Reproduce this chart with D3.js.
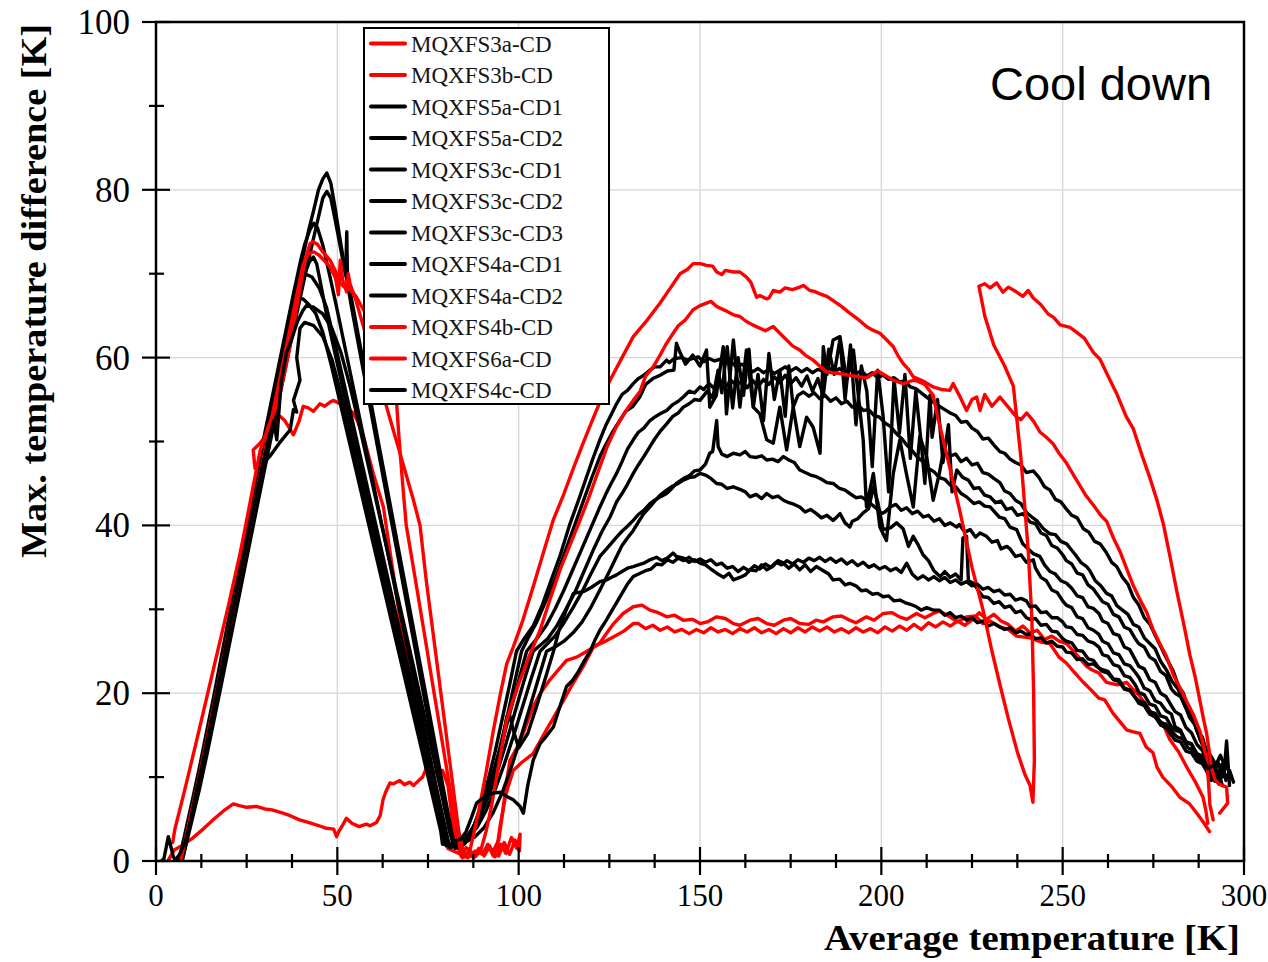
<!DOCTYPE html>
<html>
<head>
<meta charset="utf-8">
<script src="https://d3js.org/d3.v7.min.js"></script>
<style>
  body { margin: 0; background: #fff; }
  svg text { font-family: "Liberation Serif", "Times New Roman", serif; }
</style>
</head>
<body>
<script>
// ---- data: [average temperature K, max temperature difference K] ----
var s3a = [[290.5,3.5],[289,4.5],[287,5.7],[285,6.8],[282.3,7.6],[280,8.9],[277.6,10],[276,11.2],[274.9,12.9],[273,13.6],[271.3,15.2],[269.5,15.4],[267.7,15.6],[266,16.5],[263.9,17.6],[261.6,19.2],[260,19.4],[258,20.3],[255.7,21.3],[253,22.6],[251,23.6],[249,24.3],[246.5,25.9],[244,26.1],[241,26.6],[237.3,26.8],[235,27.6],[232.7,27.9],[230,28.6],[228,28.3],[226,29.2],[223.5,29.1],[221,28.5],[218.9,29.1],[216,29.8],[214.3,29.5],[212,29],[209.7,29.5],[207,28.8],[205,29.1],[203,29.6],[200.5,29.5],[198,28.7],[195.9,29.1],[193,28.4],[191.3,28.7],[189,29.2],[186.7,29.1],[184,28.5],[182,28.7],[180,28.2],[177.5,28.3],[175,28.9],[173,28.7],[170.5,28.1],[168.4,28.3],[166,28.9],[163.8,28.7],[161,28.1],[159.2,28.3],[157,28.9],[154.6,29.1],[152,28.5],[150,28.3],[148,28.8],[145.4,28.7],[143,29.3],[140.8,29.1],[138.5,29.6],[136.2,29.9],[134,30.5],[131.6,30.3],[128.8,29.5],[126,28.2],[124,27],[122.4,26],[120,25.3],[118,24.8],[116,24.3],[113.2,23.9],[111,22.8],[108.6,21.6],[106,20],[104,18.4],[101.5,15.5],[99.5,13.5],[97.6,12],[96.5,9],[95.5,5.5],[94.5,2.5],[93,1.2],[94.5,0.6],[96,2.2],[97.5,0.8],[99,2.5],[100.2,1.2],[100.4,3.2],[99.5,1.5],[98,2.8],[96.5,0.9],[95,2],[93.5,0.5],[92,1.8],[90.5,0.6],[89,1.5],[87.5,0.4],[86,1],[84.5,0.4],[83.8,0.9],[82,4],[80.5,9],[79,10.8],[77,10.6],[74.6,11.1],[73.5,10],[72.7,9.7],[71,9],[70,9.4],[68.5,9.1],[67.2,9.6],[65.5,9.2],[64.5,9.3],[63.3,8.2],[62.6,7.3],[61.8,5.4],[60.8,4.6],[59,4.2],[58,4.4],[56,4.1],[54,4.5],[52.5,5.1],[51.5,4.3],[50.5,3.6],[49.8,2.9],[49,3.8],[47,3.9],[45,4.2],[44.2,4.3],[42,4.6],[39.6,4.9],[37,5.4],[35,5.7],[32,6.1],[30,6.2],[27.7,6.5],[25,6.4],[23,6.6],[21.3,6.8],[19,6.1],[16,5],[13,3.8],[10,2.7],[7,1.8],[5,1.3],[3.5,0.2]];

var s3b = [[290,4.5],[289.5,6],[288.7,7.6],[286.5,9.5],[284.2,11.2],[282,13],[279.5,14.5],[277.6,16.4],[275,17.3],[273,18.6],[271,19.8],[269.5,20.4],[267.6,21.3],[265,21],[262.1,21.3],[260,22.4],[258,22.8],[256.6,23.2],[254,24.5],[251.1,25.9],[249,26.2],[247,26.8],[245,26.4],[243,27.5],[241,27.2],[239,28],[237,27.4],[235,28.2],[233,28.6],[231,29.4],[229,28.8],[227,29.6],[225,28.7],[223,28.1],[221,28.6],[219,28],[217,28.5],[215,27.9],[213,28.4],[211,27.6],[209,28.2],[207,27.5],[205,28],[203,27.4],[201,27.9],[199,27.2],[197,27.7],[195,27.3],[193,27.8],[191,27.2],[189,27.7],[187,27.3],[185,27.9],[183,27.4],[181,27.9],[179,27.3],[177,27.8],[175,27.2],[173,27.7],[171,27.1],[169,27.6],[167,27.2],[165,27.8],[163,27.3],[161,27.7],[159,27.1],[157,27.6],[155,27.3],[153,27.8],[151,27.2],[149,27.6],[147,27.1],[145,27.6],[143,27.3],[141,27.9],[139,27.5],[137,28.1],[135,27.7],[133,28.3],[131.6,28.3],[129,27.4],[126.1,26.7],[123.5,26.1],[120.6,25.5],[117.8,23.2],[114.5,20.8],[111.4,18.4],[107.5,15.5],[104,12.8],[101,11.8],[98.5,10.8],[96.5,8],[95,4.5],[94,1.5],[93,0.6],[91.5,2],[90,0.8],[88,1.2],[86,0.4],[84,0.8],[82,1.2],[80.5,1.5],[79,3.8],[77,8.2],[75,12.5],[72.5,18],[70,23],[67.3,28.7],[65,35.5],[62.7,42.2],[59.9,46.2],[57.2,50.6],[55.5,52.5],[54.4,53.4],[52.5,54.1],[50.7,54.5],[49,54.9],[48,54.7],[46.5,54.2],[45.2,54.5],[43.4,53.6],[42,54],[40.6,54.2],[39.5,52.5],[37.9,50.8],[36.5,51.8],[35.5,52.5],[34.2,53],[33,52.3],[32.4,51.8],[30.5,50.8],[28.5,49.7],[26.8,49],[27.3,46.8]];

var s5a1 = [[297.1,9.4],[296,10.8],[295,9.6],[294,11.5],[292.5,11.3],[291,12.4],[290,13.1],[288.5,14],[287.9,14.5],[286.5,16.4],[285,17.6],[283.3,20],[282,20.8],[280.5,22.6],[278.7,24.1],[277,25.6],[275.5,26.9],[274.1,28.2],[272.5,29],[271,30.5],[269.5,31.4],[268,33],[266.5,33.8],[264.9,35.1],[263.5,35.6],[262,36.8],[260.3,37.8],[258.8,38.1],[257.2,39.2],[255.7,39.6],[254,40.9],[252.5,41.2],[251.1,41.9],[249.5,42.8],[248,43.1],[246.5,44.2],[245,44.6],[243.5,45.7],[241.9,46.5],[240,46.3],[238.5,47.2],[237,47.5],[235.5,47.9],[234,48.6],[232.7,48.8],[231,49.6],[229.5,50.4],[228,50.3],[226.5,51.2],[225,51.6],[223.5,52.4],[222,52.3],[220.5,53.1],[219,53.4],[217.5,53.8],[216,54.2],[214.3,54.7],[212.5,55.3],[211,55.8],[209.5,56.3],[208,56.5],[206.5,57.2],[205,57.1],[203.5,57.6],[202,57.4],[200.5,57.9],[199,57.6],[197.5,58.2],[196,57.8],[194.5,58.4],[193,58.1],[191.5,58.6],[190,58.2],[188.5,58.7],[187,58.3],[185.5,58.8],[184,58.4],[182.5,58.6],[181,58.2],[179.5,58.7],[178,58.3],[176.5,58.8],[175,58.4],[173.5,58.9],[172,58.5],[170.5,58.1],[169,58.6],[167.5,58.2],[166,58.7],[164.5,58.3],[163,58.8],[161.5,59.2],[160,58.9],[158.5,59.5],[157,59.3],[155.5,59.8],[154,59.6],[152.5,59.9],[151,59.5],[149.5,60.1],[148.1,59.9],[146.5,59.7],[145,60],[143,59.9],[141.5,59.4],[140.8,59.7],[139,58.9],[137.5,58.9],[136.2,58.5],[134.5,57.9],[133,57.5],[131.6,56.9],[130,56.1],[128.5,55.6],[127,54.5],[125.5,53.2],[124,51.9],[122.4,50.2],[120.5,48],[118.5,45.5],[116.5,43],[114,40],[111.5,36.5],[109,33.5],[106.5,30.5],[104,28],[101.5,26.5],[99.4,25],[97.5,21],[95.5,17],[93.5,13],[91.5,9.5],[89.5,6.5],[87.5,4],[85.5,2.5],[83.5,1.6],[82,1.8],[81,3.5],[79,7.8],[76.5,13.6],[74,19.4],[71.5,25.2],[69,31],[66.5,36.8],[64,42.6],[61.5,48.4],[59,54.2],[56.5,60],[54,65.8],[52,70.8],[50.5,74.8],[49.2,78.3],[48.2,80.8],[47.1,82],[46,81.3],[44.8,80],[43.5,77.6],[42,75],[40.5,72],[38.5,67.8],[36.5,63.6],[34.5,59.4],[32.5,55.2],[30.5,51],[28.5,46.6],[26.5,42.2],[24.5,37.8],[22.5,33.3],[20.5,28.8],[18.5,24.4],[16.5,20],[14.5,15.7],[12.5,11.4],[10.5,7.3],[8.5,3.4],[7.2,1],[6.6,0]];

var s5a2 = [[296,9],[295.2,14.3],[294.5,10.5],[293,10.1],[291.5,11.9],[290.6,11.3],[289.2,13.2],[287.9,14.5],[286.5,16.2],[285,17.1],[283.3,19],[281.8,20.5],[280.2,21.4],[278.7,22.7],[277,23.8],[275.5,25.3],[274.1,25.9],[272.5,26.6],[271,27.9],[269.5,28.2],[268,29.4],[266.5,29.9],[265,30.4],[263.5,31.6],[262.1,31.9],[260.5,32.8],[259,33.4],[257.5,34.6],[256.6,35.1],[255,35.6],[253.5,36.5],[252,37.3],[251.1,37.8],[249.5,38.1],[248,38.9],[246.5,39],[244.7,39.6],[243,40.5],[241.5,41],[240.1,41.5],[238.5,42.6],[237,43],[235.5,43.8],[234,44.1],[232.7,45.1],[231,45.6],[229.5,46.1],[228,46.3],[226.5,47.4],[225,47.2],[223.5,48],[222,47.6],[220.5,48.5],[219,48.3],[217.1,48.8],[216,46.2],[214.3,43],[212.5,48.2],[210.6,50.6],[208.8,42.2],[206.9,46.2],[205.1,50.2],[203.3,46.2],[201.4,38.2],[199.6,39.8],[197.8,46.2],[195.9,42.2],[195,50.2],[192.3,60.9],[190.4,57.3],[188.6,62.5],[186.7,62.1],[185,58],[184,61.3],[183.1,48.6],[181.2,51.7],[179.4,52.9],[177.5,49.4],[175.7,54.1],[173.9,49],[172,54.1],[170.2,49.8],[168.4,50.2],[166.5,53.3],[164.7,54.1],[162.8,60.9],[161,54.1],[159.2,62.1],[157.3,53.3],[156.4,61.3],[154.5,55.5],[152.7,54.1],[151.8,60.9],[150,59],[148,60.3],[146,59.2],[144.5,60.6],[143.5,61.7],[142.8,58.5],[141,58.4],[139,57.9],[137,57.5],[135,56.8],[133.4,55.3],[131.5,54.2],[129.5,53.6],[127.9,52.5],[126,51.2],[124,49.6],[122.4,48.2],[120,45.5],[117.5,42.5],[115,39.5],[112.5,36.5],[110,33.5],[107.5,31],[105,28.5],[102.5,26.5],[100.8,25],[99,21.5],[97,17.5],[95,13.8],[93,10.2],[91,7.2],[89,4.8],[87,3],[85,2],[83.5,1.6],[82.5,1.5],[81.5,3.5],[79,9.2],[76.5,15],[74,20.8],[71.5,26.5],[69,32.3],[66.5,38],[64,43.8],[61.5,49.5],[59,55.3],[56.5,61],[54,66.8],[52.8,69.5],[52.6,75],[52.3,69.8],[51,72.8],[49.5,76.2],[48.2,79],[47.1,79.8],[46,79],[44.5,76.2],[43,73.4],[41.5,70.6],[40,67.6],[38,63.6],[36,59.4],[34,55.2],[32,51],[30,46.8],[28,42.5],[26,38.2],[24,33.9],[22,29.6],[20,25.3],[18,21],[16,16.8],[14,12.6],[12,8.6],[10,5],[8.5,2.3],[7.5,0.6],[7,0]];

var s3c1 = [[295,11],[293.5,12.6],[292,11.2],[290,12.5],[288.5,14.8],[287,15.5],[285.5,17.6],[284,18.2],[282.5,19.6],[281,20],[280,20.5],[278.5,22.1],[277,22.6],[275.5,23.9],[274,24.3],[272.5,25.5],[271,25.9],[270,26.5],[268.5,27.6],[267,27.9],[265.5,29.1],[264,29.4],[262.5,30.6],[261,30.9],[260,31.5],[258.5,32.4],[257,32.9],[255.5,34.1],[254,34.3],[252.5,35.4],[251,35.8],[250,36.5],[248.5,37.3],[247,37.6],[245.5,38.8],[244,39.1],[242.5,40.2],[241,40.4],[239.1,41.4],[237.5,41.2],[236,42.1],[234.5,41.9],[233,42.9],[231.5,42.7],[230,43.4],[228.5,43.6],[227,44.5],[225.5,44.4],[224,45.4],[222.5,45.7],[220.8,46.6],[219.5,44],[218.5,52],[217,47.5],[215.5,55],[214,50.5],[213.4,55.5],[212,45],[211,49.8],[209.5,56],[208,48],[206.5,58],[205,51],[203.5,57.5],[202,44],[200.5,53],[199,58.5],[197.5,47],[196,56],[194.5,59],[193,52],[191.5,61.5],[190,55],[188.6,62.2],[187,58],[185.5,61],[184,55.5],[182.5,57.5],[181,56],[179.5,57.8],[178,56.6],[176.5,57.6],[175,56.9],[173.5,57.9],[172,57],[170.5,57.7],[169,56.8],[167.5,57.4],[166,56.5],[164.5,57.3],[163,56.4],[161.5,57.2],[160,56.7],[158.5,57.3],[157,56.5],[155.5,57],[154,56.3],[152.5,56.9],[151,56.2],[150,56.5],[148.5,55.8],[147,56],[145.4,55.3],[144,54.8],[142.5,54.4],[140.8,53.7],[139,53.3],[137.5,52.9],[136.2,52.5],[134.5,51.6],[133,51.1],[131.6,50.2],[130,49.1],[128.5,47.6],[127,46.2],[125.5,45],[124,43.7],[122.4,42.2],[120,39.8],[117.5,37.3],[115,34.8],[112.5,32.3],[110,30],[107.5,28],[105,26.5],[102.2,25],[100,21.5],[97.5,17.5],[95,13.5],[92.5,9.8],[90,6.5],[87.5,4],[85,2.5],[83,1.8],[81,1.6],[80,3.5],[77.5,8.4],[75,13.6],[72.5,18.8],[70,24],[67.5,29.2],[65,34.4],[62.5,39.6],[60,44.8],[57.5,50],[55,55.2],[52.5,60.4],[50,65.6],[48,69.6],[46,73.4],[44.5,75.5],[43.5,76],[42.5,75.3],[41,73.5],[40,71.8],[38,67.8],[36,63.6],[34,59.4],[32,55.2],[30,51],[28,46.6],[26,42.2],[24,37.8],[22,33.3],[20,28.8],[18,24.3],[16,19.8],[14,15.5],[12,11.2],[10,7.2],[8,3.3],[6.8,1],[6.2,0]];

var s3c2 = [[294,10],[292.8,11.8],[291.5,10.6],[290,11.5],[288.5,13.2],[287,13.9],[285.5,15.3],[284,15.9],[282.5,17.4],[281,17.8],[280,18.5],[278.5,19.6],[277,20],[275.5,21.3],[274,21.6],[272.5,22.9],[271,23.2],[270,24],[268.5,25.2],[267,25.5],[265.5,26.9],[264,27.1],[262.5,28.3],[261,28.6],[260,29.5],[258.5,30.1],[257,30.3],[255.5,31.4],[254,31.6],[252.5,32.5],[251.1,33.1],[249.5,33.4],[248,34.2],[246.5,34.5],[245,35.3],[243.7,36.3],[242,36.6],[240.5,37.2],[239,37.8],[237.3,39.5],[235.5,39.8],[234,40.8],[232.5,41],[230,42.2],[228.5,42.3],[227,42.8],[225.5,42.6],[223.5,43.4],[222,43.8],[220.5,44.6],[219,44.8],[217.5,45.5],[216,45.7],[214.5,46.4],[213,46.8],[211.5,47.6],[210,48.1],[208.5,48.9],[207,49.6],[205.5,50.4],[204,51],[202.5,51.8],[201,52.2],[199.5,52.9],[198,53.1],[196.5,53.8],[195,53.7],[193.5,54.4],[192,54.1],[190.5,54.8],[189,54.5],[187.5,55.2],[186,54.8],[184.5,55.5],[183,55.1],[181.5,55.8],[180,55.4],[178.5,55.9],[177,55.5],[175.7,54.1],[174.5,59],[173.5,53],[172,58.5],[170.5,55],[169,60.5],[167.5,52.5],[166,58],[164.7,54.1],[163.5,61],[162,55.5],[160.5,60],[159,54],[157.5,61.3],[156,55.8],[155,58.5],[153.5,55.2],[152,56],[150,54.9],[148.5,55],[147,54.5],[145.4,54.1],[144,53.4],[142.5,53],[140.8,52.1],[139,51.2],[137.5,50.3],[136.2,49.4],[134.5,48.2],[133,47.2],[131.6,46.2],[130,44.9],[128.5,43.8],[127,42.8],[125.2,41],[123,39.3],[120.5,37],[118,34.5],[115.5,32],[113,30],[110.5,28],[108,26.5],[104,25],[101.5,21.5],[99,17.8],[96.5,14],[94,10.5],[91.5,7.5],[89,5],[86.5,3.2],[84,2.2],[82,1.9],[80,1.8],[79,3.6],[76.5,8.4],[74,13.2],[71.5,18],[69,22.8],[66.5,27.6],[64,32.4],[61.5,37.2],[59,42],[56.5,46.8],[54,51.6],[51.5,56.4],[49,61.2],[47,65.2],[45.5,68.6],[44.3,71.2],[43.4,72],[42.3,71.4],[41,70],[39.6,68.3],[38,65],[36,61.8],[34,57.8],[32,53.6],[30,49.4],[28,45],[26,40.6],[24,36.2],[22,31.8],[20,27.4],[18,23],[16,18.6],[14,14.4],[12,10.3],[10,6.4],[8.2,2.8],[7,0.6],[6.5,0]];

var s3c3 = [[293,9.5],[291.5,10.8],[290,10.4],[288.5,12.1],[287,12.5],[285.5,13.9],[284,14.2],[282.5,15.6],[281,16],[280,17.5],[278.5,17.9],[277,18.8],[275.5,19.1],[274,20.3],[272.5,20.6],[271,21.9],[270,22.5],[268.5,23.3],[267,23.5],[265.5,24.6],[264,24.8],[262.5,25.9],[261,26.2],[260,27],[258.5,27.5],[257,27.8],[255.5,28.9],[254,29.1],[252.5,30.2],[251,30.5],[250,31],[248.5,32],[247,32.3],[245.5,33.4],[244,33.8],[242.5,34.9],[241.9,35.9],[240,35.6],[238.5,36.5],[237,36.3],[235.5,37.2],[234.6,37.5],[233,37.2],[232,38.2],[230.5,38],[229,38.7],[227.2,39.1],[226,38.6],[224.5,39.5],[223,39.2],[221.5,40.1],[220.8,39.8],[219,40.3],[217.5,40],[216,40.8],[214.5,40.5],[213,41.2],[211.6,41],[210,41.7],[208.5,41.4],[207,42.1],[205.5,41.8],[204,42.5],[202.4,42.2],[201,41.6],[200,41.4],[198.5,42.1],[197,42.6],[195.9,43],[194.5,43.4],[193,43.3],[191.3,43.8],[190,44.2],[188.5,44.4],[186.7,45],[185,45.1],[183.5,45.5],[182.1,45.8],[180.5,46],[179,46.3],[177.5,46.6],[176,47.5],[174.5,47.8],[173,48.2],[171.5,47.6],[170,47.9],[168.4,47.8],[167,48.3],[165.5,48.1],[163.8,48.2],[162.5,48.8],[161,48.4],[159.2,48.6],[157.5,48.2],[156,48.5],[155,49.4],[154.6,52.5],[153.5,48.8],[152.7,48.6],[151.5,47.3],[150,46.6],[148.5,46.5],[147,45.9],[145.5,45.6],[143.5,45],[142,44.3],[140.8,43.8],[139,43.4],[137.5,43],[136.2,42.6],[134.5,41.8],[133,41.3],[131.6,40.6],[130,39.9],[128.5,39.3],[127,38.6],[125,37.6],[122.4,36.3],[120,34.3],[117.5,32.1],[115,30.2],[112.5,28.4],[110,26.8],[105.9,25],[103.5,21.8],[101,18.3],[98.5,14.8],[96,11.5],[93.5,8.5],[91,6],[88.5,4],[86,2.8],[83.5,2.2],[80.5,2],[79.5,3.8],[77,8.6],[74.5,13.4],[72,18.2],[69.5,23],[67,27.8],[64.5,32.6],[62,37.4],[59.5,42.2],[57,47],[54.5,51.8],[52,56.6],[49.5,61.4],[47,66],[45,68.3],[43,69.6],[41,70],[40,69.3],[39,67.4],[37.5,64.8],[36,61.9],[34,57.6],[32,53.3],[30,49.1],[28,44.8],[26,40.4],[24,36],[22,31.6],[20,27.2],[18,22.8],[16,18.5],[14,14.2],[12,10],[10,6],[8.5,3.2],[7.2,0.8],[6.8,0]];

var s4a1 = [[294,9],[293,10.6],[292,9.5],[290.5,10.8],[289,11.6],[287.5,12.1],[286,13.2],[284.5,13.5],[283,14.6],[281.5,14.8],[280,15.5],[278.5,16.3],[277,16.5],[275.5,17.6],[274,17.8],[272.5,18.9],[271,19.1],[270,19.5],[268.5,20.4],[267,20.6],[265.5,21.6],[264,21.7],[262.5,22.6],[261,22.8],[260,23],[258.5,23.9],[257,24.1],[255.5,25],[254,25.1],[252.5,26],[251,26.2],[250,26.5],[248.5,27.3],[247,27.4],[245.5,28.2],[244,28.1],[242.5,28.9],[241,28.8],[240,29],[238.5,29.8],[237,29.6],[235.5,30.4],[234,30.2],[232.5,30.9],[231,30.7],[229.5,31.4],[228,31.5],[226.5,32.4],[225.4,33.1],[224,33.4],[223.5,38.7],[222.5,38.5],[222,33.5],[220.5,34.2],[219,33.8],[217.5,34.5],[216.2,33.9],[214.5,34.6],[213,35.8],[211.5,36.5],[210,37.8],[208.8,38.7],[207.5,37.5],[206,39.6],[204.2,40.3],[202.5,39.7],[200.5,39.5],[199,42.8],[197.8,44.6],[196.5,42],[195,41.5],[193.5,40.8],[192,40.5],[191.3,39.8],[190,40.3],[188.6,41.4],[187.5,40.9],[186.7,40.6],[185,41.2],[183.5,40.9],[182.1,41.4],[180.5,41.9],[179,41.6],[177.5,42.2],[176,42.5],[174.5,42.7],[173,43],[171.5,43.5],[170,43.3],[168.4,43.8],[167,43.2],[165.5,43.7],[163.8,43.4],[162.5,44],[161,44.3],[159.2,44.6],[157.5,44.4],[156,44.9],[154.6,45],[153,45.6],[151.5,46],[150,46.2],[148.5,45.8],[147,45.7],[145.4,45.4],[144,45],[142.5,44.7],[140.8,44.2],[139,43.6],[137.5,42.9],[136.2,42.2],[134.5,41.4],[133,40.4],[131.6,39.4],[130,38.5],[128.5,37.6],[127,36.3],[125,34.5],[122.4,32.3],[120,30.3],[117.5,28.5],[115,27.2],[112.5,26.2],[110,25.5],[107.7,25],[105.5,21.8],[103,18.2],[100.5,14.6],[98,11.2],[95.5,8.2],[93,5.8],[90.5,4],[88,2.9],[85.5,2.3],[83,2.1],[79,2],[78.5,3.6],[76,8.2],[73.5,12.8],[71,17.4],[68.5,22],[66,26.6],[63.5,31.2],[61,35.8],[58.5,40.4],[56,45],[53.5,49.6],[51,54.2],[48.5,58.8],[46,63],[44,65.3],[42,66.4],[40.5,67],[39.7,67],[38.8,66.2],[37.5,64.5],[36,61.5],[34,57.2],[32,53],[30,48.7],[28,44.4],[26,40],[24,35.6],[22,31.2],[20,26.8],[18,22.4],[16,18.1],[14,13.8],[12,9.6],[10,5.6],[8.3,2.2],[7.5,0.5],[7.2,0]];

var s4a2 = [[293,9.2],[292,10.5],[291,9.6],[290,10.5],[288.5,11.6],[287,11.9],[285.5,12.9],[284,13.1],[282.5,14.2],[281,14.4],[280,15],[278.5,15.9],[277,16.2],[275.5,17.2],[274,17.5],[272.5,18.5],[271,18.8],[270,19.5],[268.5,20.3],[267,20.5],[265.5,21.4],[264,21.6],[262.5,22.4],[261,22.6],[260,23],[258.5,23.5],[257,23.4],[255.5,24.1],[254,24],[252.5,24.8],[251,24.9],[250,25.5],[248.5,25.6],[247,26.2],[245.5,26],[244,26.6],[242.5,26.5],[241,27.1],[240,27],[238.5,27.4],[237,27.2],[235.5,27.8],[234,27.6],[232.7,27.9],[231,28.3],[229.5,28],[228,28.6],[226.5,28.4],[225,29],[223.5,28.7],[222,29.2],[220.5,29],[219,29.6],[217.5,29.3],[216,29.9],[214.3,29.9],[212.5,30.2],[211,29.9],[209.7,30.3],[208,30.6],[206.5,30.8],[205.1,31.1],[203.5,31],[202,31.6],[200.5,31.5],[199,31.9],[197.5,31.8],[195.9,32.3],[194.5,32.2],[193,32.8],[191.3,33.1],[190,32.9],[188.5,33.6],[186.7,33.5],[185.5,34.2],[184,34.6],[182.1,35.1],[180.5,34.5],[179,35.3],[177.5,34.7],[176,35.4],[174.5,34.9],[173,35.5],[171.5,35.8],[170,35.1],[168.4,34.7],[167,35.3],[165.5,34.6],[163.8,34.7],[162.5,34.1],[161,33.8],[159.2,33.5],[158,34.3],[156.5,33.8],[154.6,34.3],[153,34.8],[151.5,35.3],[150,35.5],[148.5,35.9],[147,35.6],[145.5,36.1],[143.5,36.3],[142.6,36.7],[141,36.1],[139.5,35.8],[138,36.2],[136.2,35.9],[134.5,35.5],[133,35.3],[131.6,35.1],[130,34.9],[128.5,34.5],[127,34.1],[125.5,33.8],[124.2,33.5],[122.4,33.3],[120,32.6],[117.8,32.1],[115.1,31.9],[113,29.8],[111,27.3],[109.6,25],[107.5,22],[105,18.5],[102.5,15.2],[100,13.5],[98.5,15.6],[97.5,17.4],[96.7,17.2],[96,15],[94,12],[92,9],[90,6.5],[88,4.5],[86,3],[84,2.2],[81.5,1.9],[79.5,2.2],[78.5,4],[76,8.7],[73.5,13.4],[71,18.1],[68.5,22.8],[66,27.5],[63.5,32.2],[61,36.9],[58.5,41.6],[56,46.3],[53.5,51],[51,55.7],[48.5,59.8],[46,62.5],[43.5,63.8],[41,64.2],[39.7,63.5],[38.8,60],[39.7,57.3],[37.9,54.9],[38.8,53.5],[37.9,53.8],[37,51.4],[34,49.8],[31.5,48.3],[29.6,47.4],[28,45],[26,40.6],[24,36.2],[22,31.8],[20,27.4],[18,23],[16,18.7],[14,14.4],[12,10.2],[10,6.2],[8.5,3],[7.5,0.8],[7,0]];

var s4b = [[293.3,5.7],[295.5,6.9],[295.2,8.8],[293,9.2],[292,9.7],[291.1,11],[289.7,15.2],[288.8,17],[287.8,19.2],[286.5,22],[285.1,24.5],[283.5,28],[281.4,32.3],[279.5,36.5],[277.8,40.1],[276,43],[274.1,45.6],[272,48.2],[269.5,51.5],[267.5,53],[264.9,55.7],[262.5,57.8],[260.3,59.8],[258.5,60.6],[256,62.3],[253.9,63],[252,63.6],[249.3,63.9],[247.5,64.8],[246,65.2],[244,66.3],[241.9,67.1],[240.5,68],[239,67.3],[237,67.9],[235,68.4],[233.5,67.8],[231.8,68.9],[230,68.3],[228.5,68.8],[226.9,68.5],[228.5,65],[231,61.5],[234,59],[236.4,56.6],[238.5,48],[240.5,37],[241.5,29],[242,20],[242.2,12],[241.8,7],[241,9],[239.6,10.3],[237.5,13],[235,17],[233,20.5],[230.5,25],[228,30],[225,35],[221.5,42],[218,48.5],[215.5,53],[214.3,55.5],[212,56.8],[210,57.2],[208.8,57.3],[206,56.9],[203.3,57.3],[201,57.9],[199,58.4],[197.8,58.1],[196,57.6],[194.1,57.7],[191,57.9],[188.6,58.1],[186.5,58.2],[184.9,58.3],[183,59],[181.2,59.7],[179,60.3],[177.5,60.9],[175.5,61.4],[173.9,62.1],[172,62.9],[170.2,63.7],[168,63.2],[166.5,63.5],[164.5,63.9],[162.8,64.3],[161,64.9],[159.2,65.1],[157,65.6],[154.6,66.1],[153,66.7],[151.8,66.5],[150,66.2],[148.1,65.7],[146,64.5],[144,63.8],[142.6,62.9],[140.5,61.5],[139,60.3],[137.1,58.9],[135,57.8],[133.5,56],[131.6,54.9],[129.5,53.6],[127,51.8],[124.5,49.5],[122.4,47],[119.5,43.5],[116.9,40.6],[114,37.5],[111.4,34.7],[108.5,31],[105.9,27.5],[103,24.5],[100.4,21.6],[98.5,19.2],[96.7,16.8],[94.5,11.5],[92.5,6.5],[91,3.5],[89.5,1.2],[88,0.5],[86.5,1.3],[85,0.5],[83.5,3.5],[82,8.5],[80.5,13.5],[79,18.5],[77.5,23.5],[76,28.5],[74.5,33.5],[72.8,40],[71,43],[69,46],[67,49],[65,52],[63,55],[61,58],[59,61],[57,64],[55,67],[53.5,68.8],[53,70],[52.6,67.8],[51.5,69.2],[50.8,71.6],[50.3,67.5],[49.5,69.5],[48,70.8],[46.5,71.5],[45,72.2],[43.5,72.6],[42,72.4],[40.5,71],[39,67.8],[37.5,64.6],[36,61.4],[34,57.2],[32,53],[30,48.8],[28,44.5],[26,40.2],[24,35.9],[22,31.6],[20,27.3],[18,23],[16,18.7],[14,14.5],[12,10.3],[10,6.3],[8.5,3.4],[7.3,1],[6.8,0]];

var s6a = [[291.5,4.9],[290.6,6.7],[290.2,9.5],[289.7,12.2],[287.9,15.4],[286,17.5],[284.2,19],[282.5,20.5],[280.5,22.2],[278.5,24.5],[276.8,25.9],[275,27.5],[273.2,29.6],[271.5,31],[269.5,32.8],[267.5,35],[265.8,36.9],[264,38.5],[262.1,40.5],[260.5,41.2],[258.5,42.4],[256.5,43.5],[254.8,44.7],[253,46],[251.1,47.4],[249,48.6],[247.4,49.7],[245.5,50.5],[243.8,51.1],[242,52.4],[240.1,53.4],[238.5,52.6],[237.3,52.9],[235,54.1],[232.7,55.3],[230.5,54.2],[228.5,55.6],[227.2,53.7],[226.3,55.3],[225,55],[223.5,53.7],[221.5,55.5],[219.8,56.9],[218.9,56.1],[216.5,56.2],[214.3,56.5],[211.5,57.2],[208.8,57.7],[207.5,58.6],[206,59.3],[204.5,60.3],[203.3,61.3],[201.5,62.1],[199.6,62.9],[197.5,63.3],[195.9,63.7],[193.5,64.6],[191.3,65.3],[189,66.1],[186.7,66.8],[185,67.3],[183.1,67.6],[181.5,67.9],[180.3,68],[178.5,68.6],[177.5,68.4],[175.5,68.1],[173.5,68.3],[172,67.8],[170.2,68],[169,67.1],[168.4,67],[166.5,67.4],[165.6,67.2],[164,69],[162.8,69.6],[161,70.2],[159.2,70.2],[157,70.4],[156,69.9],[154.6,70.2],[153.5,70.9],[151.8,71],[150,71.2],[148.1,71.2],[146.5,70.5],[144.5,70],[142,68.4],[139,66.5],[135.5,64.5],[131.6,62.5],[128.5,60],[125.2,57.3],[122.5,54.8],[120,52.2],[117.5,49.5],[115,46.7],[112.5,43.8],[109.5,40.6],[107,37],[104,32.7],[101,28.5],[98.5,25.5],[96.7,23.5],[95,20],[93,15.5],[91,10.5],[89,6],[87.5,3],[86.5,1.2],[85.5,1.6],[84.2,0.5],[83,3.6],[81.5,7.5],[80,11.4],[78.5,15.3],[77,19.2],[75.5,23.1],[74.8,25],[73,29.7],[71,34.9],[69,40],[68,45],[67,50.5],[66.2,55.5],[65.4,60.1],[63.5,61.3],[61.8,62.5],[59.5,64.1],[57.2,65.7],[55.3,67.2],[53.5,68.1],[52,68.4],[50.7,68.9],[49.5,70.3],[48,71.6],[46,72.6],[44.5,73.5],[43.3,73.8],[42.5,73.6],[41,71.5],[39,66.5],[37,61.5],[35,57.3],[33,54],[31,51.8],[28.7,48.9],[26.5,44],[24.5,39.5],[23.2,36.7],[20,30.5],[17,25],[14,19.5],[11,14],[8.5,9.5],[6.5,6],[5.2,3.8],[4.6,2.2]];

var s4c = [[295,9.8],[294,11.5],[293,10.3],[291.5,11.4],[290,11],[288.5,12.5],[287,12.8],[285.5,14],[284,14.2],[282.5,15.4],[281,15.6],[280,16],[278.5,17.1],[277,17.3],[275.5,18.5],[274,18.7],[272.5,19.8],[271,20.1],[270,21],[268.5,21.9],[267,22.1],[265.5,23.2],[264,23.4],[262.5,24.4],[261,24.6],[260,25.5],[258.5,26],[257,26.2],[255.5,26.9],[254,27],[252.5,27.8],[251,27.9],[250,28.5],[248.5,29],[247,29],[245.5,29.7],[244,29.6],[242.5,30.4],[241,30.3],[240,31],[238.5,31.3],[237,31.1],[235.5,31.8],[234,31.7],[232.5,32.3],[231,32.1],[229.5,32.6],[228,32.4],[226.5,33],[225,32.8],[223.5,33.3],[222,33],[220.5,33.5],[219,33.2],[217.5,33.8],[216,33.4],[214.5,33.9],[213,33.5],[211.5,34],[210,33.6],[208.5,34.2],[207,35.5],[205.5,34.4],[204,34.9],[202.5,34.6],[201,35.1],[199.5,34.8],[198,35.3],[196.5,35],[195,35.6],[193.5,35.2],[192,35.8],[190.5,35.4],[189,36],[187.5,35.6],[186,36.1],[184.5,35.7],[183,36.2],[181.5,35.8],[180,36.1],[178.5,35.6],[177,35.9],[175.5,35.4],[174,35.8],[172.5,35.3],[171,35.6],[169.5,35],[168,35.4],[166.5,34.8],[165,35.2],[163.5,34.6],[162,35],[160.5,34.5],[159,35.1],[157.5,34.9],[156,35.5],[154.5,35.3],[153,35.9],[151.5,35.6],[150,36],[148.5,35.7],[147,36.2],[145.5,35.8],[144,36.1],[142.5,35.6],[141,35.9],[139.5,35.3],[138,35.4],[136.5,34.8],[135,34.6],[133.5,34.3],[131.6,33.9],[130,33],[128.5,31.9],[127,30.8],[125.5,29.7],[124,28.6],[122.4,27.5],[121,26.3],[119.7,25],[118,23.8],[116.5,22.6],[115,21.6],[113.2,20.8],[111.5,18.6],[109.6,16],[107.5,14.8],[105.9,14],[104,12],[102.5,9],[101.3,5.7],[100.4,6.5],[98.5,7.3],[96.7,7.7],[95,8.2],[93,8.1],[91,7.8],[89.5,7.3],[88.4,6.9],[87,5.2],[85.5,3.5],[84,2.6],[82,2.3],[81,3.5],[78.5,8.5],[76,13.4],[73.5,18.3],[71,23.2],[68.5,28],[66,32.8],[63.5,37.6],[61,42.4],[58.5,47.2],[56,52],[53.5,56.6],[51,60.6],[48.5,63.5],[46,65.2],[43.5,66],[41.5,66.2],[40.5,65.6],[39,64.3],[37.5,62.3],[36,60.6],[34.5,57],[33.3,50.2],[32.5,52.5],[31,50.3],[29,46.4],[27,42.2],[25,38],[23,33.7],[21,29.4],[19,25],[17,20.6],[15,16.2],[13,12],[11,8],[9.5,4.8],[8,2.2],[6.5,0.8],[5.3,0.1],[4.8,0.5],[3.4,2.9],[2.2,0.3],[1.5,0]];

var seriesNames = ["MQXFS3a-CD", "MQXFS3b-CD", "MQXFS5a-CD1", "MQXFS5a-CD2", "MQXFS3c-CD1", "MQXFS3c-CD2",
                   "MQXFS3c-CD3", "MQXFS4a-CD1", "MQXFS4a-CD2", "MQXFS4b-CD", "MQXFS6a-CD", "MQXFS4c-CD"];
var seriesValues = [s3a, s3b, s5a1, s5a2, s3c1, s3c2, s3c3, s4a1, s4a2, s4b, s6a, s4c];
var seriesColors = ["#ff0000", "#ff0000", "#000000", "#000000", "#000000", "#000000",
                    "#000000", "#000000", "#000000", "#ff0000", "#ff0000", "#000000"];

var xTicks = [0, 50, 100, 150, 200, 250, 300];
var xMinorTicks = [12.5, 25, 37.5, 62.5, 75, 87.5, 112.5, 125, 137.5, 162.5, 175, 187.5, 212.5, 225, 237.5, 262.5, 275, 287.5];
var yTicks = [0, 20, 40, 60, 80, 100];
var yMinorTicks = [10, 30, 50, 70, 90];

// ---- chart ----
var W = 1268, H = 962;
var plotL = 156, plotR = 1244, plotT = 22, plotB = 861;

var svg = d3.select("body").append("svg")
    .attr("width", W)
    .attr("height", H);

svg.append("rect").attr("width", W).attr("height", H).attr("fill", "#fff");

var x = d3.scaleLinear().domain([0, 300]).range([plotL, plotR]);
var y = d3.scaleLinear().domain([0, 100]).range([plotB, plotT]);

// grid
svg.append("g").selectAll("line")
    .data(xTicks.filter(function (d) { return d > 0 && d < 300; }))
    .enter().append("line")
    .attr("x1", function (d) { return x(d); }).attr("x2", function (d) { return x(d); })
    .attr("y1", plotT).attr("y2", plotB)
    .attr("stroke", "#d6d6d6").attr("stroke-width", 1.3);

svg.append("g").selectAll("line")
    .data(yTicks.filter(function (d) { return d > 0 && d < 100; }))
    .enter().append("line")
    .attr("y1", function (d) { return y(d); }).attr("y2", function (d) { return y(d); })
    .attr("x1", plotL).attr("x2", plotR)
    .attr("stroke", "#d6d6d6").attr("stroke-width", 1.3);

// series
svg.append("clipPath").attr("id", "plotclip")
  .append("rect").attr("x", plotL).attr("y", plotT).attr("width", plotR - plotL).attr("height", plotB - plotT);

var line = d3.line()
    .x(function (d) { return x(d[0]); })
    .y(function (d) { return y(d[1]); });

svg.append("g").attr("clip-path", "url(#plotclip)")
  .selectAll("path")
    .data(seriesValues)
    .enter().append("path")
    .attr("d", line)
    .attr("fill", "none")
    .attr("stroke", function (d, i) { return seriesColors[i]; })
    .attr("stroke-width", 3.4)
    .attr("stroke-linejoin", "round")
    .attr("stroke-linecap", "round");

// frame
svg.append("rect")
    .attr("x", plotL).attr("y", plotT)
    .attr("width", plotR - plotL).attr("height", plotB - plotT)
    .attr("fill", "none").attr("stroke", "#000").attr("stroke-width", 2.5);

// ticks
var ticks = svg.append("g").attr("stroke", "#000").attr("stroke-width", 2.2);
ticks.selectAll(".xmaj").data(xTicks).enter().append("line")
    .attr("x1", function (d) { return x(d); }).attr("x2", function (d) { return x(d); })
    .attr("y1", plotB - 14).attr("y2", plotB + 14);
ticks.selectAll(".xmin").data(xMinorTicks).enter().append("line")
    .attr("x1", function (d) { return x(d); }).attr("x2", function (d) { return x(d); })
    .attr("y1", plotB - 7).attr("y2", plotB + 7);
ticks.selectAll(".ymaj").data(yTicks).enter().append("line")
    .attr("y1", function (d) { return y(d); }).attr("y2", function (d) { return y(d); })
    .attr("x1", plotL - 14).attr("x2", plotL + 14);
ticks.selectAll(".ymin").data(yMinorTicks).enter().append("line")
    .attr("y1", function (d) { return y(d); }).attr("y2", function (d) { return y(d); })
    .attr("x1", plotL - 7).attr("x2", plotL + 8);

// tick labels
svg.append("g").selectAll("text").data(xTicks).enter().append("text")
    .attr("x", function (d) { return x(d); })
    .attr("y", 906)
    .attr("text-anchor", "middle")
    .style("font-size", "31px")
    .text(function (d) { return d; });

svg.append("g").selectAll("text").data(yTicks).enter().append("text")
    .attr("x", 130)
    .attr("y", function (d) { return y(d) + 12; })
    .attr("text-anchor", "end")
    .style("font-size", "35px")
    .text(function (d) { return d; });

// axis titles
svg.append("text")
    .attr("x", 1240).attr("y", 950)
    .attr("text-anchor", "end")
    .attr("textLength", 416)
    .attr("lengthAdjust", "spacingAndGlyphs")
    .style("font-size", "36px").style("font-weight", "bold")
    .text("Average temperature [K]");

svg.append("text")
    .attr("transform", "translate(46,291) rotate(-90)")
    .attr("text-anchor", "middle")
    .attr("textLength", 534)
    .attr("lengthAdjust", "spacingAndGlyphs")
    .style("font-size", "35px").style("font-weight", "bold")
    .text("Max. temperature difference [K]");

svg.append("text")
    .attr("x", 990).attr("y", 100)
    .style("font-family", "'Liberation Sans', Arial, sans-serif")
    .style("font-size", "47px")
    .text("Cool down");

// legend
var legend = svg.append("g");
legend.append("rect")
    .attr("x", 364).attr("y", 28).attr("width", 245).attr("height", 376)
    .attr("fill", "#fff").attr("stroke", "#000").attr("stroke-width", 2);

var rows = legend.selectAll("g.row").data(seriesNames).enter().append("g")
    .attr("transform", function (d, i) { return "translate(0," + (43.5 + i * 31.5) + ")"; });
rows.append("line")
    .attr("x1", 371).attr("x2", 405)
    .attr("stroke", function (d, i) { return seriesColors[i]; })
    .attr("stroke-width", 4)
    .attr("stroke-linecap", "round");
rows.append("text")
    .attr("x", 411).attr("y", 8)
    .style("font-size", "23px")
    .attr("fill", "#151515")
    .text(function (d) { return d; });
</script>
</body>
</html>
